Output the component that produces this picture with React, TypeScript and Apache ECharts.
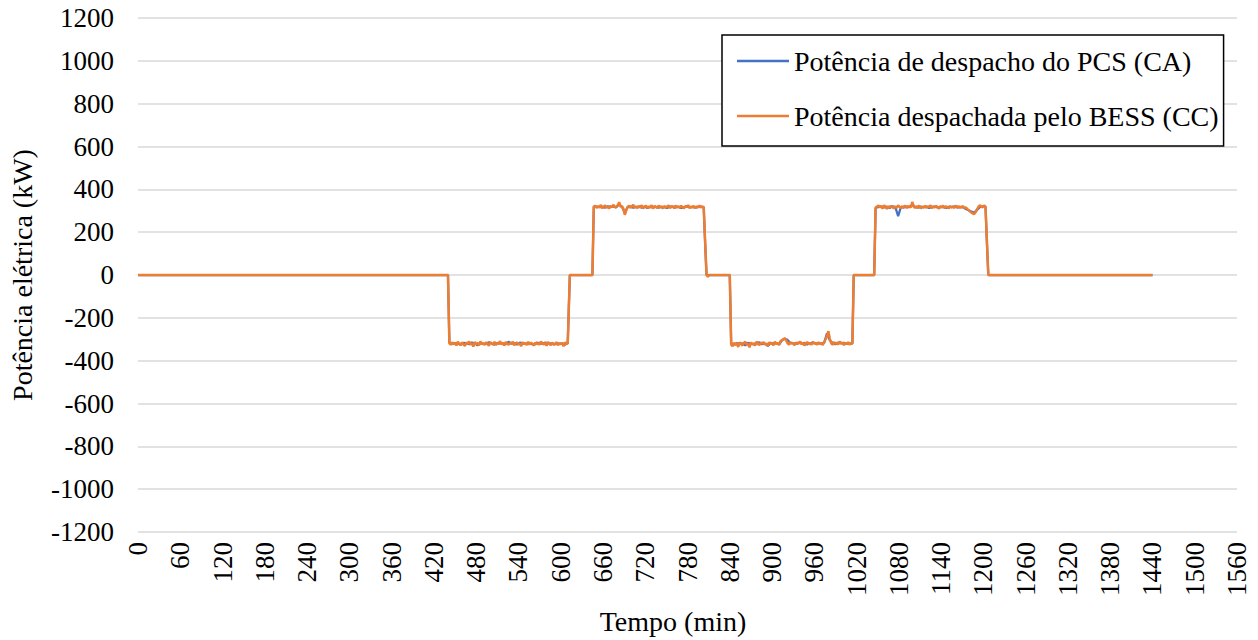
import React, { useEffect, useRef } from "react";
import * as echarts from "echarts";

// Eixos
const X_MIN = 0;
const X_MAX = 1560;
const X_INTERVAL = 60;
const Y_MIN = -1200;
const Y_MAX = 1200;
const Y_INTERVAL = 200;

const SERIE_PCS = "Potência de despacho do PCS (CA)";
const SERIE_BESS = "Potência despachada pelo BESS (CC)";

// Patamares de potência (kW), amostrados a cada PASSO minutos a partir de INICIO_PATAMAR
const PASSO_PCS = 4;
const PASSO_BESS = 2;
const INICIO_PATAMAR = [442, 647, 842, 1047];

const bessA = [
  -318, -326, -314, -323, -317, -329, -312, -321, -327, -315,
  -324, -331, -316, -320, -311, -325, -319, -334, -313, -322,
  -317, -328, -310, -323, -319, -326, -315, -321, -330, -314,
  -320, -325, -312, -327, -318, -322, -309, -324, -316, -329,
  -313, -321, -326, -317, -323, -311, -328, -319, -315, -324,
  -320, -332, -314, -322, -318, -327, -312, -325, -316, -321,
  -329, -315, -323, -318, -326, -311, -320, -324, -317, -330,
  -313, -322, -327, -316, -321, -325, -314, -328, -319, -323,
  -317, -333, -315, -322, -319,
];
const pcsA = [-316, -322, -318, -320, -326, -317, -318, -323, -315, -320, -328, -318, -320, -322, -314, -320, -325, -317, -319, -319, -323, -312, -320, -318, -325, -316, -319, -322, -318, -321, -327, -316, -318, -322, -315, -320, -319, -324, -317, -321, -319, -326, -318];

const bessB = [
  318, 324, 313, 321, 316, 327, 312, 320, 325, 314,
  319, 311, 323, 317, 328, 315, 320, 326, 340, 318,
  322, 309, 281, 302, 316, 324, 313, 320, 327, 315,
  319, 312, 322, 317, 325, 311, 318, 323, 314, 320,
  316, 326, 310, 321, 318, 313, 324, 317, 320, 311,
  322, 316, 319, 325, 313, 318, 321, 312, 324, 316,
  320, 314, 323, 317, 311, 321, 318, 326, 313, 319,
  316, 322, 312, 320, 317, 324, 315, 319, 317,
];
const pcsB = [320, 319, 317, 318, 315, 321, 318, 319, 316, 330, 318, 292, 317, 320, 314, 318, 318, 315, 320, 313, 318, 316, 319, 314, 318, 317, 313, 320, 318, 315, 319, 313, 317, 320, 316, 318, 315, 317, 319, 317];

const bessC = [
  -324, -333, -316, -327, -319, -336, -314, -323, -329, -317,
  -312, -326, -321, -338, -315, -324, -318, -330, -311, -322,
  -327, -316, -320, -313, -325, -319, -331, -314, -322, -317,
  -328, -312, -321, -318, -326, -309, -305, -300, -296, -304,
  -318, -325, -313, -321, -317, -328, -315, -322, -319, -311,
  -324, -316, -329, -320, -313, -323, -318, -326, -312, -321,
  -317, -325, -314, -322, -319, -327, -313, -300, -285, -262,
  -298, -318, -326, -313, -321, -317, -324, -311, -320, -316,
  -327, -318, -322, -314, -325, -319, -321,
];
const pcsC = [-320, -326, -318, -322, -319, -329, -316, -321, -324, -318, -315, -323, -320, -331, -317, -320, -318, -325, -305, -298, -303, -318, -318, -322, -315, -319, -317, -324, -319, -315, -321, -318, -320, -317, -272, -305, -318, -323, -315, -319, -317, -322, -319, -320];

const bessD = [
  313, 320, 324, 316, 322, 310, 326, 318, 309, 321,
  315, 323, 317, 311, 320, 314, 325, 318, 312, 321,
  316, 324, 313, 319, 322, 315, 341, 320, 313, 321,
  317, 324, 311, 319, 316, 322, 314, 320, 318, 326,
  312, 319, 315, 323, 317, 310, 321, 316, 324, 313,
  320, 317, 311, 322, 315, 319, 313, 324, 317, 320,
  314, 318, 321, 312, 316, 309, 303, 297, 291, 287,
  285, 294, 306, 318, 326, 320, 316, 324, 319,
];
const pcsD = [314, 317, 320, 316, 319, 313, 321, 317, 275, 318, 315, 319, 317, 328, 318, 314, 319, 316, 320, 313, 318, 319, 315, 318, 317, 313, 319, 317, 320, 315, 318, 316, 308, 302, 296, 292, 304, 317, 321, 319];

// Trechos entre patamares: [tempo (min), potência (kW)]
const bessTransicoes = [
  [[0, 0], [440, 0]],
  [[613, 0], [645, 0]],
  [[805, 158], [807, 0], [809, -8], [811, 0], [840, 0]],
  [[1016, 0], [1045, 0]],
  [[1205, 160], [1207, 0], [1440, 0]],
];
const pcsTransicoes = [
  [[0, 0], [440, 0]],
  [[613, 0], [645, 0]],
  [[805, 150], [807, 0], [840, 0]],
  [[1016, 0], [1045, 0]],
  [[1205, 150], [1207, 0], [1440, 0]],
];

function montarSerie(transicoes: number[][][], patamares: number[][], passo: number) {
  const pts: number[][] = [];
  transicoes.forEach((tr, k) => {
    tr.forEach((p) => pts.push(p));
    if (k < patamares.length) {
      patamares[k].forEach((v, i) => pts.push([INICIO_PATAMAR[k] + i * passo, v]));
    }
  });
  return pts;
}

const FONT = "Liberation Serif";
const FS = 27;
const FS_TITLE = 28;

export default function App() {
  const ref = useRef<HTMLDivElement>(null);
  useEffect(() => {
    if (!ref.current) return;
    const chart = echarts.init(ref.current, undefined, { renderer: "svg" });
    chart.setOption({
      animation: false,
      backgroundColor: "#ffffff",
      textStyle: { fontFamily: FONT, fontSize: FS, color: "#000000" },
      grid: { left: 134, right: 21, top: 18, bottom: 106 },
      legend: {
        orient: "vertical",
        left: 722,
        top: 35,
        padding: [12, 5, 16, 15],
        borderColor: "#000000",
        borderWidth: 1.5,
        backgroundColor: "#ffffff",
        icon: "rect",
        itemWidth: 52,
        itemHeight: 2.5,
        itemGap: 27,
        textStyle: { fontFamily: FONT, fontSize: FS_TITLE, lineHeight: 27, color: "#000000" },
        data: [SERIE_PCS, SERIE_BESS],
      },
      xAxis: {
        type: "value",
        min: X_MIN,
        max: X_MAX,
        interval: X_INTERVAL,
        name: "Tempo (min)",
        nameLocation: "middle",
        nameGap: 75,
        nameTextStyle: { fontFamily: FONT, fontSize: FS_TITLE, color: "#000000", padding: [0, 29, 0, 0] },
        axisLine: { show: false },
        axisTick: { show: false },
        splitLine: { show: false },
        axisLabel: {
          rotate: 90,
          margin: 10,
          fontFamily: FONT,
          fontSize: FS,
          color: "#000000",
          formatter: (v: number) => String(v),
        },
      },
      yAxis: {
        type: "value",
        min: Y_MIN,
        max: Y_MAX,
        interval: Y_INTERVAL,
        name: "Potência elétrica (kW)",
        nameLocation: "middle",
        nameGap: 102,
        nameTextStyle: { fontFamily: FONT, fontSize: FS_TITLE, color: "#000000" },
        axisLine: { show: false },
        axisTick: { show: false },
        splitLine: { show: true, lineStyle: { color: "#d9d9d9", width: 1.5 } },
        axisLabel: {
          margin: 24,
          fontFamily: FONT,
          fontSize: FS,
          color: "#000000",
          formatter: (v: number) => String(v),
        },
      },
      series: [
        {
          name: SERIE_PCS,
          type: "line",
          data: montarSerie(pcsTransicoes, [pcsA, pcsB, pcsC, pcsD], PASSO_PCS),
          showSymbol: false,
          symbol: "none",
          lineStyle: { color: "#4472C4", width: 2.25 },
          itemStyle: { color: "#4472C4" },
        },
        {
          name: SERIE_BESS,
          type: "line",
          data: montarSerie(bessTransicoes, [bessA, bessB, bessC, bessD], PASSO_BESS),
          showSymbol: false,
          symbol: "none",
          lineStyle: { color: "#ED7D31", width: 2.5 },
          itemStyle: { color: "#ED7D31" },
        },
      ],
    });
    return () => chart.dispose();
  }, []);
  return <div ref={ref} style={{ width: 1258, height: 640, position: "absolute", left: 0, top: 0 }} />;
}
